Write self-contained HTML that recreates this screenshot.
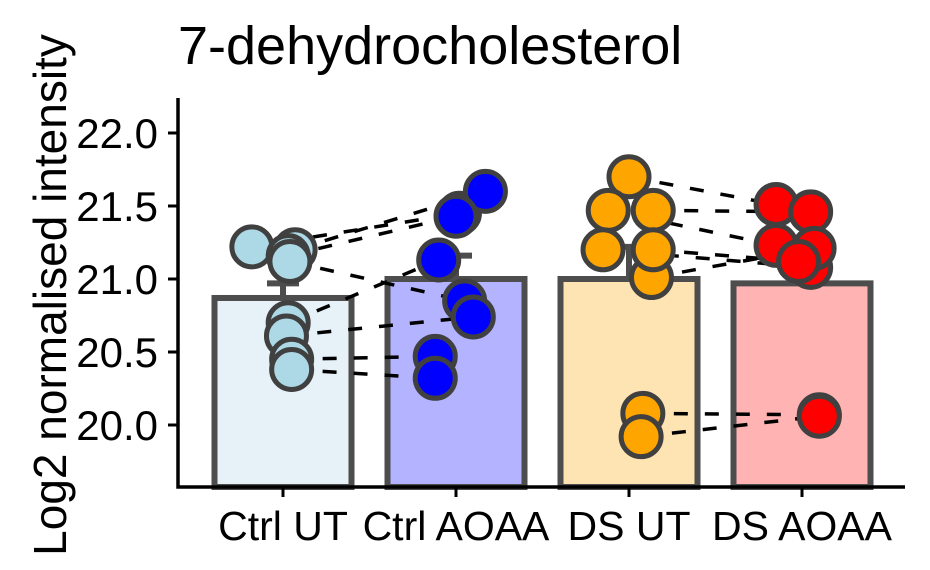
<!DOCTYPE html>
<html><head><meta charset="utf-8"><style>
body{margin:0;background:#fff}
svg{display:block;font-family:"Liberation Sans",sans-serif}
</style></head><body>
<svg id="chart" width="930" height="570">
<text x="178" y="64" font-size="54" fill="#000">7-dehydrocholesterol</text>
<text transform="translate(66,295) rotate(-90)" text-anchor="middle" font-size="46" fill="#000">Log2 normalised intensity</text>
<g id="bars"></g><g id="lines"></g><g id="errs"></g><g id="pts"></g><g id="axes"></g>
</svg>
<script>
const categories=["Ctrl UT","Ctrl AOAA","DS UT","DS AOAA"];
const means=[20.87,21.0,21.0,20.97];
const ses=[0.1,0.16,0.22,0.2];
const ctrlUT=[21.22,21.20,21.16,21.12,20.70,20.61,20.45,20.38];
const ctrlAOAA=[21.45,21.6,21.43,20.85,21.13,20.74,20.47,20.32];
const dsUT=[21.70,21.47,21.47,21.20,21.01,21.2,20.08,19.92];
const dsAOAA=[21.51,21.23,21.46,21.08,21.21,21.12,20.07,20.06];
const jitCtrlUT=[-0.18,0.07,0.03,0.04,0.03,0.02,0.05,0.05];
const jitCtrlAOAA=[0.02,0.17,0.0,0.05,-0.1,0.1,-0.12,-0.12];
const jitDsUT=[0.0,-0.12,0.14,-0.15,0.13,0.14,0.08,0.07];
const jitDsAOAA=[-0.15,-0.15,0.05,0.05,0.07,-0.02,0.1,0.1];
const yTicks=[20.0,20.5,21.0,21.5,22.0];
const fills=["#E6F1F8","#B3B3FF","#FFE4B3","#FFB3B3"];
const ptCols=["#ADD8E6","#0000FF","#FFA500","#FF0000"];
const groups=[ctrlUT,ctrlAOAA,dsUT,dsAOAA];
const jits=[jitCtrlUT,jitCtrlAOAA,jitDsUT,jitDsAOAA];
const NS="http://www.w3.org/2000/svg";
const y=v=>425-(v-20)*146;
const x=i=>283+i*173;
const bw=173;
function mk(p,t,a){const e=document.createElementNS(NS,t);for(const k in a)e.setAttribute(k,a[k]);document.getElementById(p).appendChild(e);return e;}
categories.forEach((c,i)=>{
 const r=mk("bars","rect",{x:x(i)-68.5,y:y(means[i]),width:137,height:487-y(means[i]),fill:fills[i],stroke:"#4D4D4D","stroke-width":6});
 
 
 const e=mk("errs","path",{d:`M${x(i)-16},${y(means[i]+ses[i])}H${x(i)+16}M${x(i)},${y(means[i]+ses[i])}V${y(means[i])}`,stroke:"#4D4D4D","stroke-width":6,fill:"none"});
 
 
 const t=mk("axes","text",{x:x(i),y:540,"text-anchor":"middle","font-size":41});
 t.textContent=c;
 
 
 mk("axes","line",{x1:x(i),x2:x(i),y1:487,y2:497,stroke:"#000","stroke-width":3});
});
[[0,1],[2,3]].forEach(([a,b])=>{
 groups[a].forEach((v,k)=>{
  const l=mk("lines","line",{x1:x(a)+jits[a][k]*bw,y1:y(v),x2:x(b)+jits[b][k]*bw,y2:y(groups[b][k]),stroke:"#000","stroke-width":3.5,"stroke-dasharray":"14 17"});
  
  
 });
});
groups.forEach((g,i)=>g.forEach((v,k)=>{
 const c=mk("pts","circle",{cx:x(i)+jits[i][k]*bw,cy:y(v),r:20,fill:ptCols[i],stroke:"#404040","stroke-width":5});
 
 
}));
yTicks.forEach(v=>{
 const t=mk("axes","text",{x:158,y:y(v)+15,"text-anchor":"end","font-size":42});
 t.textContent=v.toFixed(1);
 
 
 mk("axes","line",{x1:168,x2:178,y1:y(v),y2:y(v),stroke:"#000","stroke-width":3});
});
const ax=mk("axes","path",{d:"M178,98V487H905",stroke:"#000","stroke-width":3.5,fill:"none"});


</script>
</body></html>
